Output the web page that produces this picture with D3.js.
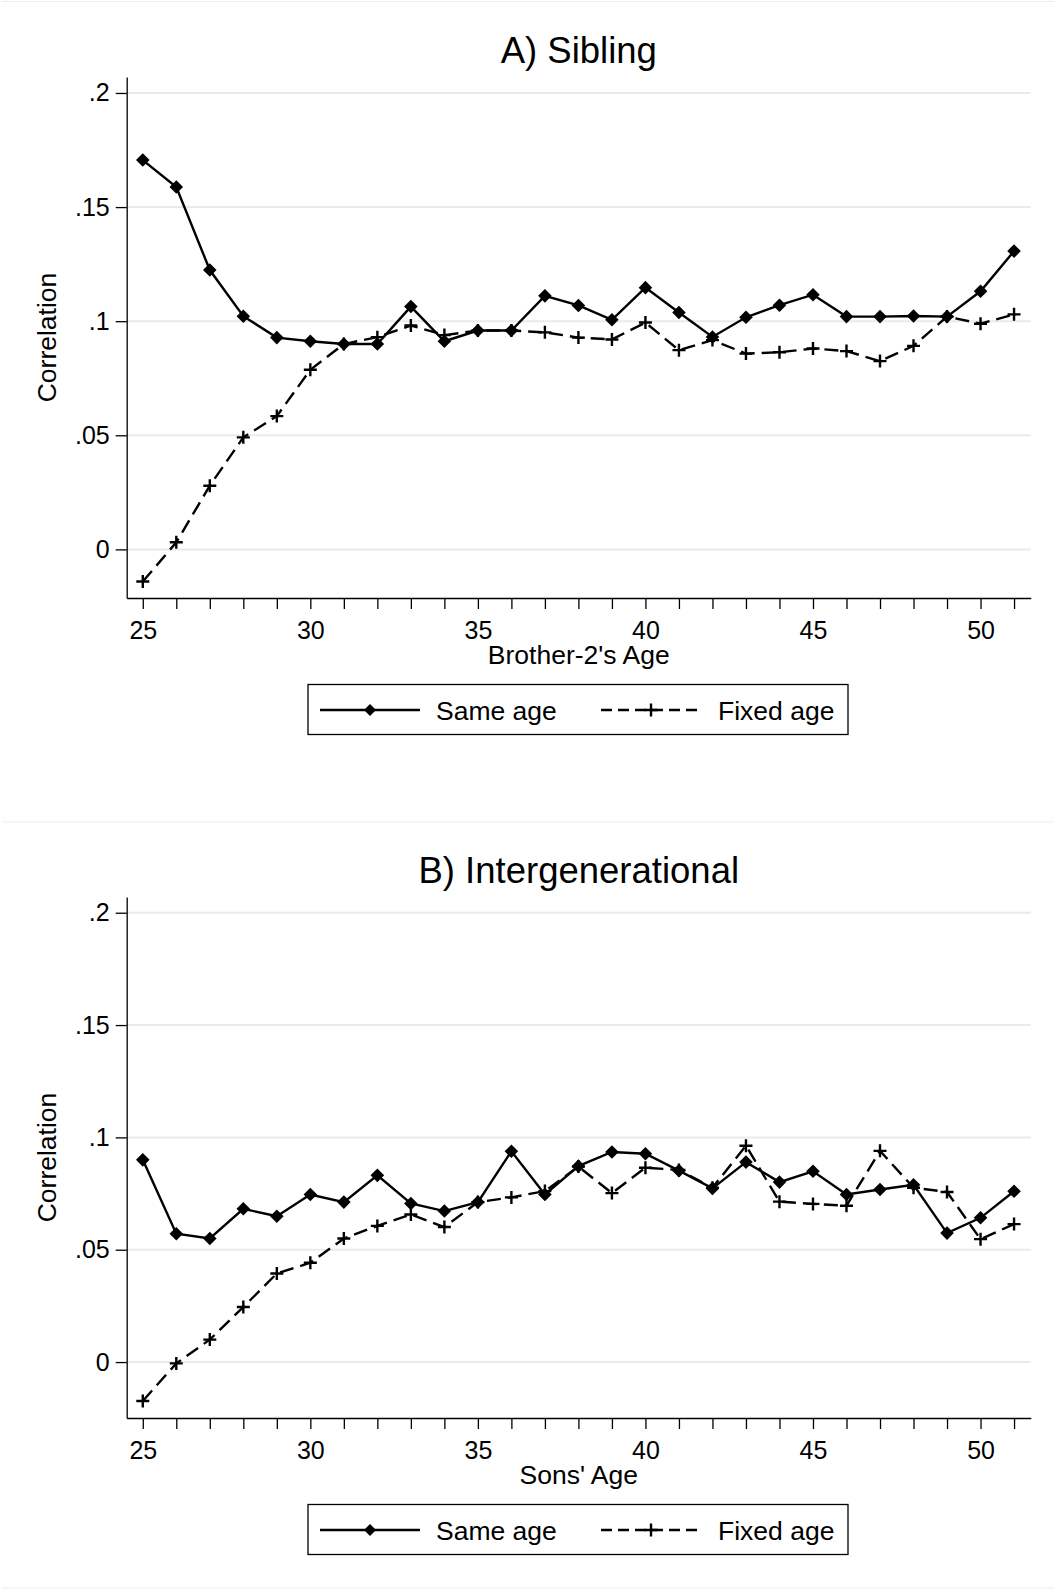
<!DOCTYPE html>
<html>
<head>
<meta charset="utf-8">
<script src="https://cdn.jsdelivr.net/npm/d3@7"></script>
<style>
  body { margin: 0; background: #fff; }
  svg text { font-family: "Liberation Sans", Arial, Helvetica, sans-serif; fill: #000; }
</style>
</head>
<body>
<div id="chart"></div>
<script>
// Data (correlation by age)
const ages = [25, 26, 27, 28, 29, 30, 31, 32, 33, 34, 35, 36, 37, 38, 39, 40, 41, 42, 43, 44, 45, 46, 47, 48, 49, 50, 51];

const sibSame = [0.1706, 0.1588, 0.1224, 0.1022, 0.0928, 0.0912, 0.0900, 0.0900, 0.1064, 0.0912, 0.0959, 0.0959, 0.1111, 0.1069,
  0.1006, 0.1147, 0.1038, 0.0931, 0.1017, 0.1070, 0.1116, 0.1020, 0.1020, 0.1023, 0.1020, 0.1131, 0.1307];
const sibFixed = [-0.0141, 0.0031, 0.0279, 0.0491, 0.0584, 0.0787, 0.0900, 0.0930, 0.0981, 0.0939, 0.0959, 0.0959, 0.0951, 0.0928,
  0.0920, 0.0994, 0.0873, 0.0917, 0.0858, 0.0864, 0.0880, 0.0869, 0.0825, 0.0892, 0.1020, 0.0989, 0.1030];

const igSame = [0.0900, 0.0571, 0.0550, 0.0682, 0.0649, 0.0746, 0.0712, 0.0831, 0.0706, 0.0672, 0.0712, 0.0938, 0.0746, 0.0872,
  0.0935, 0.0927, 0.0852, 0.0773, 0.0890, 0.0801, 0.0849, 0.0746, 0.0768, 0.0789, 0.0574, 0.0642, 0.0760];
const igFixed = [-0.0173, -0.0006, 0.0100, 0.0245, 0.0394, 0.0442, 0.0550, 0.0606, 0.0657, 0.0601, 0.0712, 0.0733, 0.0761, 0.0870,
  0.0752, 0.0865, 0.0855, 0.0776, 0.0963, 0.0714, 0.0704, 0.0696, 0.0940, 0.0776, 0.0757, 0.0547, 0.0614];

const yTicks = [0, 0.05, 0.1, 0.15, 0.2];
const yTickLabels = ["0", ".05", ".1", ".15", ".2"];
const xLabelTicks = [25, 30, 35, 40, 45, 50];
const seriesNames = ["Same age", "Fixed age"];

// Panel setup (top = where each graph starts on the page)
const panels = [
  { title: "A) Sibling", xTitle: "Brother-2's Age", same: sibSame, fixed: sibFixed, top: 2, yMin: -0.0213 },
  { title: "B) Intergenerational", xTitle: "Sons' Age", same: igSame, fixed: igFixed, top: 822, yMin: -0.0249 }
];

const width = 1056;
const height = 1592;
const plot = { left: 126.7, right: 1030.8, top: 75, bottom: 596 };
const gridColor = "#e4ecef";
const borderColor = "#e9eff1";

const svg = d3
  .select("#chart")
  .append("svg")
  .attr("width", width)
  .attr("height", height);

svg.append("rect").attr("width", width).attr("height", height).attr("fill", "#fff");

// faint graph borders
[1.5, 822, 1588].forEach((yy) => {
  svg.append("line")
    .attr("x1", 2).attr("x2", width - 2)
    .attr("y1", yy).attr("y2", yy)
    .attr("stroke", borderColor)
    .attr("stroke-width", 1.2);
});

const x = d3.scaleLinear().domain([24.52, 51.5]).range([plot.left, plot.right]);

const diamond = d3.symbol().type(d3.symbolSquare).size(92);
const plusPath = "M-6.5,0H6.5M0,-6.5V6.5";

function drawPanel(p) {
  const g = svg.append("g").attr("transform", `translate(0,${p.top})`);
  const y = d3.scaleLinear().domain([p.yMin, 0.207]).range([plot.bottom, plot.top]);

  // grid lines
  g.selectAll(".grid")
    .data(yTicks)
    .enter()
    .append("line")
    .attr("class", "grid")
    .attr("x1", plot.left)
    .attr("x2", plot.right)
    .attr("y1", (d) => y(d))
    .attr("y2", (d) => y(d))
    .attr("stroke", gridColor)
    .attr("stroke-width", 2);

  // y axis
  const yAxis = g.append("g")
    .attr("transform", `translate(${plot.left},0)`)
    .call(
      d3.axisLeft(y)
        .tickValues(yTicks)
        .tickFormat((d, i) => yTickLabels[i])
        .tickSize(11)
        .tickSizeOuter(0)
        .tickPadding(6)
    );
  yAxis.selectAll("text").style("font-size", "25px");
  yAxis.selectAll("line, path").attr("stroke-width", 1.3);

  // x axis
  const xAxis = g.append("g")
    .attr("transform", `translate(0,${plot.bottom})`)
    .call(
      d3.axisBottom(x)
        .tickValues(ages)
        .tickFormat((d) => (xLabelTicks.includes(d) ? d : ""))
        .tickSize(11)
        .tickSizeOuter(0)
        .tickPadding(12)
    );
  xAxis.selectAll("text").style("font-size", "25px");
  xAxis.selectAll("line, path").attr("stroke-width", 1.3);

  // titles
  g.append("text")
    .attr("x", (plot.left + plot.right) / 2)
    .attr("y", 60.5)
    .attr("text-anchor", "middle")
    .style("font-size", "36.5px")
    .text(p.title);

  g.append("text")
    .attr("x", (plot.left + plot.right) / 2)
    .attr("y", plot.bottom + 66)
    .attr("text-anchor", "middle")
    .style("font-size", "26.5px")
    .text(p.xTitle);

  g.append("text")
    .attr("transform", `translate(55.5,${(plot.top + plot.bottom) / 2}) rotate(-90)`)
    .attr("text-anchor", "middle")
    .style("font-size", "26.5px")
    .text("Correlation");

  const same = ages.map((a, i) => ({ age: a, v: p.same[i] }));
  const fixed = ages.map((a, i) => ({ age: a, v: p.fixed[i] }));

  const line = d3.line().x((d) => x(d.age)).y((d) => y(d.v));

  // Same age: solid line with diamonds
  g.append("path")
    .datum(same)
    .attr("d", line)
    .attr("fill", "none")
    .attr("stroke", "#000")
    .attr("stroke-width", 2.4);

  g.selectAll(".diamond")
    .data(same)
    .enter()
    .append("path")
    .attr("class", "diamond")
    .attr("d", diamond)
    .attr("transform", (d) => `translate(${x(d.age)},${y(d.v)}) rotate(45)`)
    .attr("fill", "#000");

  // Fixed age: dashed line with plus markers
  g.append("path")
    .datum(fixed)
    .attr("d", line)
    .attr("fill", "none")
    .attr("stroke", "#000")
    .attr("stroke-width", 2.4)
    .attr("stroke-dasharray", "14,7");

  g.selectAll(".plus")
    .data(fixed)
    .enter()
    .append("path")
    .attr("class", "plus")
    .attr("d", plusPath)
    .attr("transform", (d) => `translate(${x(d.age)},${y(d.v)})`)
    .attr("stroke", "#000")
    .attr("stroke-width", 2.4);

  // legend
  const lg = g.append("g").attr("transform", "translate(308,682.5)");
  lg.append("rect")
    .attr("width", 540)
    .attr("height", 50)
    .attr("fill", "#fff")
    .attr("stroke", "#000")
    .attr("stroke-width", 1.3);

  const ly = 25.5;
  lg.append("line").attr("x1", 12).attr("x2", 112).attr("y1", ly).attr("y2", ly)
    .attr("stroke", "#000").attr("stroke-width", 2.4);
  lg.append("path").attr("d", d3.symbol().type(d3.symbolSquare).size(72))
    .attr("transform", `translate(62,${ly}) rotate(45)`).attr("fill", "#000");
  lg.append("text").attr("x", 128).attr("y", ly + 9.5).style("font-size", "26.5px").text(seriesNames[0]);

  lg.append("line").attr("x1", 293).attr("x2", 393).attr("y1", ly).attr("y2", ly)
    .attr("stroke", "#000").attr("stroke-width", 2.4).attr("stroke-dasharray", "11,6");
  lg.append("path").attr("d", plusPath)
    .attr("transform", `translate(343,${ly})`).attr("stroke", "#000").attr("stroke-width", 2.4);
  lg.append("text").attr("x", 410).attr("y", ly + 9.5).style("font-size", "26.5px").text(seriesNames[1]);
}

panels.forEach(drawPanel);
</script>
</body>
</html>
